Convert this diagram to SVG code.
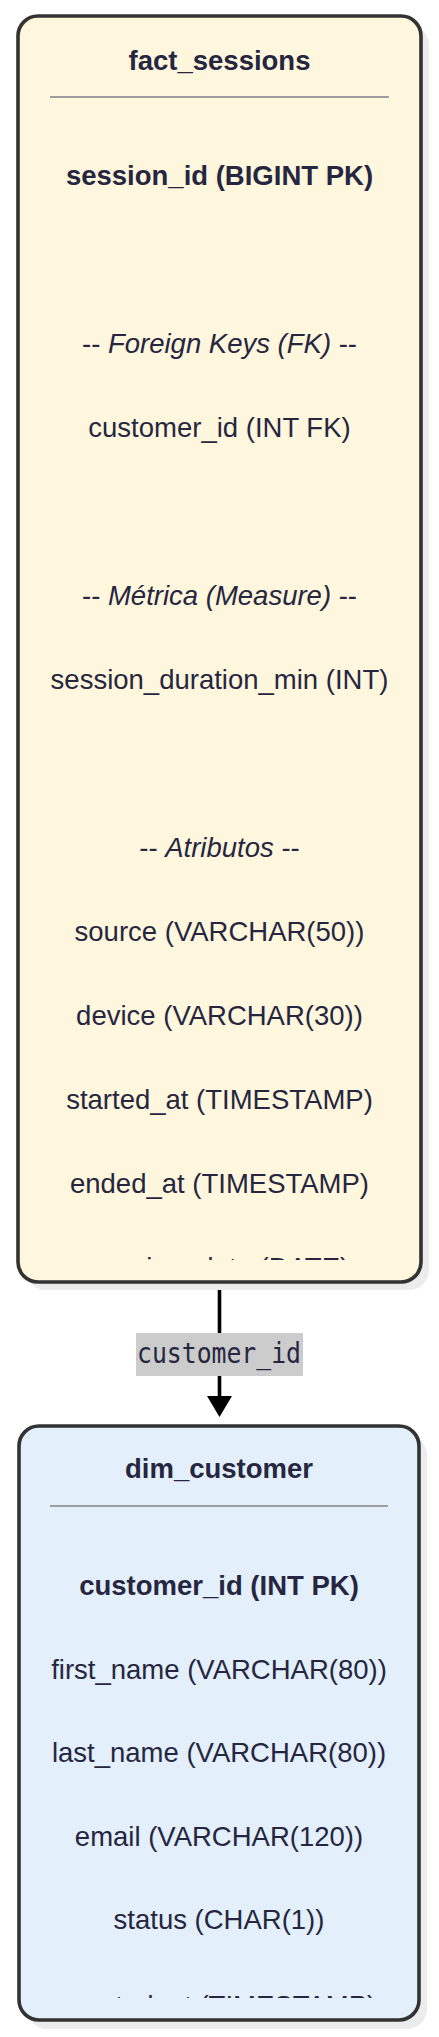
<svg xmlns="http://www.w3.org/2000/svg" width="439" height="2037" viewBox="0 0 439 2037">
<style>
.box{stroke:#333333;stroke-width:3.6}
.fact{fill:#FFF7DD}
.dim{fill:#E3F0FC}
.shadow{fill:#ECECEC}
.sep{stroke:#9E9E9E;stroke-width:1.8}
text{font-family:"Liberation Sans",Arial,sans-serif;font-size:27.5px;fill:#262640;text-anchor:middle}
.title{font-weight:bold}
.pk{font-weight:bold}
.it{font-style:italic}
.edge{stroke:#000000;stroke-width:3.6;fill:none}
.lblbg{fill:#CCCCCC}
.lbl{font-family:"DejaVu Sans Mono","Liberation Mono",monospace;font-size:28px;text-anchor:start}
</style>
<defs>
<clipPath id="clipFact"><rect x="18" y="16" width="403" height="1244"/></clipPath>
<clipPath id="clipDim"><rect x="19" y="1426" width="400" height="572"/></clipPath>
</defs>

<g id="connectors">
<line class="edge" x1="219.5" y1="1283" x2="219.5" y2="1396"/>
<polygon points="207,1396 232,1396 219.5,1417" fill="#000000"/>
<rect class="lblbg" x="136" y="1333" width="167" height="43"/>
<text class="lbl" x="137" y="1363" textLength="164" lengthAdjust="spacingAndGlyphs">customer_id</text>
</g>

<g id="fact_sessions">
<rect class="shadow" x="26" y="25" width="403" height="1265" rx="20"/>
<rect class="box fact" x="18" y="16" width="403" height="1266" rx="20"/>
<text class="title" x="219.5" y="70">fact_sessions</text>
<line class="sep" x1="50" y1="97" x2="389" y2="97"/>
<g clip-path="url(#clipFact)">
<text class="pk" x="219.5" y="185">session_id (BIGINT PK)</text>
<text x="219.5" y="353">-- <tspan class="it">Foreign Keys (FK)</tspan> --</text>
<text x="219.5" y="437">customer_id (INT FK)</text>
<text x="219.5" y="605">-- <tspan class="it">Métrica (Measure)</tspan> --</text>
<text x="219.5" y="689">session_duration_min (INT)</text>
<text x="219.5" y="857">-- <tspan class="it">Atributos</tspan> --</text>
<text x="219.5" y="941">source (VARCHAR(50))</text>
<text x="219.5" y="1025">device (VARCHAR(30))</text>
<text x="219.5" y="1109">started_at (TIMESTAMP)</text>
<text x="219.5" y="1193">ended_at (TIMESTAMP)</text>
<text x="219.5" y="1277">session_date (DATE)</text>
</g>
</g>

<g id="dim_customer">
<rect class="shadow" x="27" y="1435" width="400" height="594" rx="20"/>
<rect class="box dim" x="19" y="1426" width="400" height="594" rx="20"/>
<text class="title" x="219" y="1478">dim_customer</text>
<line class="sep" x1="50" y1="1506" x2="388" y2="1506"/>
<g clip-path="url(#clipDim)">
<text class="pk" x="219" y="1595">customer_id (INT PK)</text>
<text x="219" y="1678.5">first_name (VARCHAR(80))</text>
<text x="219" y="1762">last_name (VARCHAR(80))</text>
<text x="219" y="1845.5">email (VARCHAR(120))</text>
<text x="219" y="1929">status (CHAR(1))</text>
<text x="219" y="2014.5">created_at (TIMESTAMP)</text>
</g>
</g>
</svg>
